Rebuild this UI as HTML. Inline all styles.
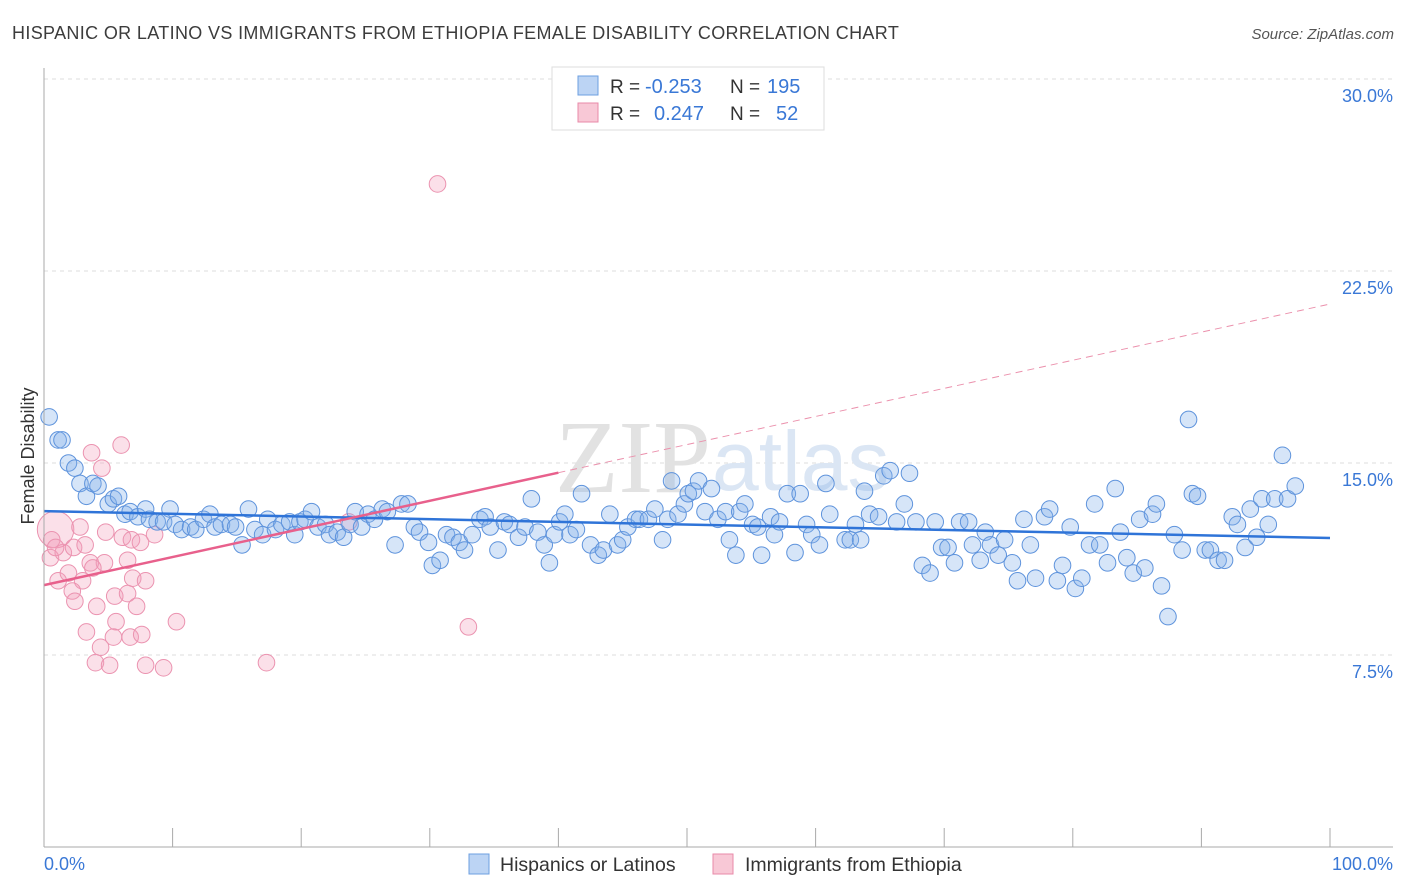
<!DOCTYPE html>
<html><head><meta charset="utf-8">
<style>
body{margin:0;background:#fff;font-family:"Liberation Sans",sans-serif;}
#wrap{position:relative;width:1406px;height:892px;overflow:hidden;}
</style></head>
<body>
<div id="wrap">
<svg id="chart" width="1406" height="892" xmlns="http://www.w3.org/2000/svg">
<text x="12" y="39" font-size="18" letter-spacing="0.35" fill="#3c3c3c">HISPANIC OR LATINO VS IMMIGRANTS FROM ETHIOPIA FEMALE DISABILITY CORRELATION CHART</text>
<text x="1394" y="39" font-size="15" fill="#555" font-style="italic" text-anchor="end">Source: ZipAtlas.com</text>
<g id="grid"></g>
<g>
<text x="555" y="492" font-size="104" font-family="Liberation Serif,serif" fill="#e2e2e2">ZIP</text>
<text x="712" y="490" font-size="84" font-family="Liberation Sans,sans-serif" fill="#dbe6f4">atlas</text>
</g>
<g id="marks"></g>
<g id="axes"></g>
<text transform="translate(34,456) rotate(-90)" font-size="18" fill="#333" text-anchor="middle">Female Disability</text>
<g>
<rect x="552" y="67" width="272" height="63" fill="#fff" stroke="#ddd"/>
<rect x="578" y="76" width="20" height="19" fill="#bcd4f4" stroke="#6d9fe0"/>
<text x="610" y="93" font-size="19" fill="#333">R = </text>
<text x="645" y="93" font-size="20" fill="#3a78d6">-0.253</text>
<text x="730" y="93" font-size="19" fill="#333">N = </text>
<text x="767" y="93" font-size="20" fill="#3a78d6">195</text>
<rect x="578" y="103" width="20" height="19" fill="#f8c8d6" stroke="#e88aa8"/>
<text x="610" y="120" font-size="19" fill="#333">R = </text>
<text x="654" y="120" font-size="20" fill="#3a78d6">0.247</text>
<text x="730" y="120" font-size="19" fill="#333">N = </text>
<text x="776" y="120" font-size="20" fill="#3a78d6">52</text>
</g>
<g>
<rect x="469" y="854" width="20" height="20" fill="#bcd4f4" stroke="#6d9fe0"/>
<text x="500" y="871" font-size="19.5" fill="#333">Hispanics or Latinos</text>
<rect x="713" y="854" width="20" height="20" fill="#f8c8d6" stroke="#e88aa8"/>
<text x="745" y="871" font-size="19.5" fill="#333">Immigrants from Ethiopia</text>
</g>
</svg>
</div>
<script>
const yTicks=[7.5,15.0,22.5,30.0];
const yTickLabels=["7.5%","15.0%","22.5%","30.0%"];
const xTicks=[0,10,20,30,40,50,60,70,80,90,100];
const xTickLabels=["0.0%","100.0%"];
const blueX=[0.4,1.1,1.4,1.9,2.4,2.8,3.3,3.8,4.2,5.0,5.4,5.8,6.3,6.7,7.3,7.9,8.2,8.8,9.3,9.8,10.2,10.7,11.4,11.8,12.4,12.9,13.3,13.8,14.5,14.9,15.4,15.9,16.4,17.0,17.4,18.0,18.5,19.1,19.5,19.9,20.3,20.8,21.3,21.9,22.2,22.8,23.3,23.8,24.2,24.7,25.2,25.7,26.3,26.7,27.3,27.8,28.3,28.8,29.2,29.9,30.2,30.8,31.3,31.8,32.3,32.7,33.3,33.9,34.3,34.7,35.3,35.8,36.2,36.9,37.4,37.9,38.4,38.9,39.3,39.7,40.1,40.5,40.9,41.4,41.8,42.5,43.1,43.5,44.0,44.6,45.0,45.4,46.0,46.3,47.0,47.5,48.1,48.5,48.8,49.3,49.8,50.1,50.5,50.9,51.4,51.9,52.4,53.0,53.3,53.8,54.1,54.5,55.1,55.5,55.8,56.5,56.8,57.2,57.8,58.4,58.8,59.3,59.7,60.3,60.8,61.1,62.3,62.7,63.1,63.5,63.8,64.2,64.9,65.3,65.8,66.3,66.9,67.3,67.8,68.3,68.9,69.3,69.8,70.3,70.8,71.2,71.9,72.2,72.8,73.2,73.6,74.2,74.7,75.3,75.7,76.2,76.7,77.1,77.8,78.2,78.8,79.2,79.8,80.2,80.7,81.3,81.7,82.1,82.7,83.3,83.7,84.2,84.7,85.2,85.6,86.2,86.5,86.9,87.4,87.9,88.5,89.0,89.3,89.7,90.3,90.7,91.3,91.8,92.4,92.8,93.4,93.8,94.3,94.7,95.2,95.7,96.3,96.7,97.3];
const blueY=[16.8,15.9,15.9,15.0,14.8,14.2,13.7,14.2,14.1,13.4,13.6,13.7,13.0,13.1,12.9,13.2,12.8,12.7,12.7,13.2,12.6,12.4,12.5,12.4,12.8,13.0,12.5,12.6,12.6,12.5,11.8,13.2,12.4,12.2,12.8,12.4,12.6,12.7,12.2,12.7,12.8,13.1,12.5,12.6,12.2,12.3,12.1,12.6,13.1,12.5,13.0,12.8,13.2,13.1,11.8,13.4,13.4,12.5,12.3,11.9,11.0,11.2,12.2,12.1,11.9,11.6,12.2,12.8,12.9,12.5,11.6,12.7,12.6,12.1,12.5,13.6,12.3,11.8,11.1,12.2,12.7,13.0,12.2,12.4,13.8,11.8,11.4,11.6,13.0,11.8,12.0,12.5,12.8,12.8,12.8,13.2,12.0,12.8,14.3,13.0,13.4,13.8,13.9,14.3,13.1,14.0,12.8,13.1,12.0,11.4,13.1,13.4,12.6,12.5,11.4,12.9,12.2,12.7,13.8,11.5,13.8,12.6,12.2,11.8,14.2,13.0,12.0,12.0,12.6,12.0,13.9,13.0,12.9,14.5,14.7,12.7,13.4,14.6,12.7,11.0,10.7,12.7,11.7,11.7,11.1,12.7,12.7,11.8,11.2,12.3,11.8,11.4,12.0,11.1,10.4,12.8,11.8,10.5,12.9,13.2,10.4,11.0,12.5,10.1,10.5,11.8,13.4,11.8,11.1,14.0,12.3,11.3,10.7,12.8,10.9,13.0,13.4,10.2,9.0,12.2,11.6,16.7,13.8,13.7,11.6,11.6,11.2,11.2,12.9,12.6,11.7,13.2,12.1,13.6,12.6,13.6,15.3,13.6,14.1];
const pinkX=[0.9,0.6,0.5,1.5,2.3,3.2,2.8,3.7,6.0,4.5,4.8,6.1,6.8,7.5,8.6,3.6,4.7,6.5,3.8,1.1,1.9,3.0,6.9,7.9,2.2,2.4,5.5,6.5,4.1,7.2,10.3,5.6,3.3,5.4,6.7,7.6,4.4,4.0,5.1,7.9,9.3,17.3,23.7,30.6,33.0,0.9];
const pinkY=[12.4,12.0,11.3,11.5,11.7,11.8,12.5,15.4,15.7,14.8,12.3,12.1,12.0,11.9,12.2,11.1,11.1,11.2,10.9,10.4,10.7,10.4,10.5,10.4,10.0,9.6,9.8,9.9,9.4,9.4,8.8,8.8,8.4,8.2,8.2,8.3,7.8,7.2,7.1,7.1,7.0,7.2,12.7,25.9,8.6,11.7];
const pinkSize=[2.2,1,1,1,1,1,1,1,1,1,1,1,1,1,1,1,1,1,1,1,1,1,1,1,1,1,1,1,1,1,1,1,1,1,1,1,1,1,1,1,1,1,1,1,1,1];
const blueTrend=[13.12,12.07];
const pinkTrend=[10.23,21.21];
const pinkSolidEnd=40;

const NS="http://www.w3.org/2000/svg";
const X0=44,X1=1330,Y0=847,YPER=25.6;
function xs(v){return X0+(X1-X0)*v/100;}
function ys(v){return Y0-v*YPER;}
function mk(tag,attrs,parent){const e=document.createElementNS(NS,tag);for(const k in attrs)e.setAttribute(k,attrs[k]);parent.appendChild(e);return e;}
const gridG=document.getElementById('grid'),marksG=document.getElementById('marks'),axesG=document.getElementById('axes');
yTicks.forEach((t,i)=>{
 const l=mk('line',{x1:44,x2:1393,y1:ys(t),y2:ys(t),stroke:'#ddd','stroke-dasharray':'4,4'},gridG);
 
 
 const tx=mk('text',{x:1393,y:ys(t)+23,'font-size':18,fill:'#3a78d6','text-anchor':'end'},axesG);
 tx.textContent=yTickLabels[i];
 
 
});
const ya=mk('line',{x1:44,x2:44,y1:68,y2:847,stroke:'#aaa'},axesG);


const xa=mk('line',{x1:44,x2:1393,y1:847,y2:847,stroke:'#aaa'},axesG);


xTicks.forEach(t=>{
 const l=mk('line',{x1:xs(t),x2:xs(t),y1:828,y2:847,stroke:'#aaa'},axesG);
 
 
});
const xl0=mk('text',{x:44,y:870,'font-size':18,fill:'#3a78d6'},axesG);
xl0.textContent=xTickLabels[0];


const xl1=mk('text',{x:1393,y:870,'font-size':18,fill:'#3a78d6','text-anchor':'end'},axesG);
xl1.textContent=xTickLabels[1];



pinkX.forEach((x,i)=>{
 const c=mk('circle',{cx:xs(x),cy:ys(pinkY[i]),r:8.3*pinkSize[i],fill:'rgba(244,160,188,0.32)',stroke:'#eb93b0','stroke-width':1},marksG);
 
 
});
blueX.forEach((x,i)=>{
 const c=mk('circle',{cx:xs(x),cy:ys(blueY[i]),r:8.3,fill:'rgba(130,175,235,0.33)',stroke:'#5e93dc','stroke-width':1},marksG);
 
 
});
const bt=mk('line',{x1:xs(0),y1:ys(blueTrend[0]),x2:xs(100),y2:ys(blueTrend[1]),stroke:'#2f74d8','stroke-width':2.5},marksG);


const pm=pinkTrend[0]+(pinkTrend[1]-pinkTrend[0])*pinkSolidEnd/100;
const pt=mk('line',{x1:xs(0),y1:ys(pinkTrend[0]),x2:xs(pinkSolidEnd),y2:ys(pm),stroke:'#e8608c','stroke-width':2.5},marksG);


const pd=mk('line',{x1:xs(pinkSolidEnd),y1:ys(pm),x2:xs(100),y2:ys(pinkTrend[1]),stroke:'#eb90ac','stroke-width':1,'stroke-dasharray':'7,5'},marksG);


const topGrid=mk('line',{x1:44,x2:1393,y1:ys(30),y2:ys(30),stroke:'#ddd','stroke-dasharray':'4,4'},gridG);


</script>
</body></html>
